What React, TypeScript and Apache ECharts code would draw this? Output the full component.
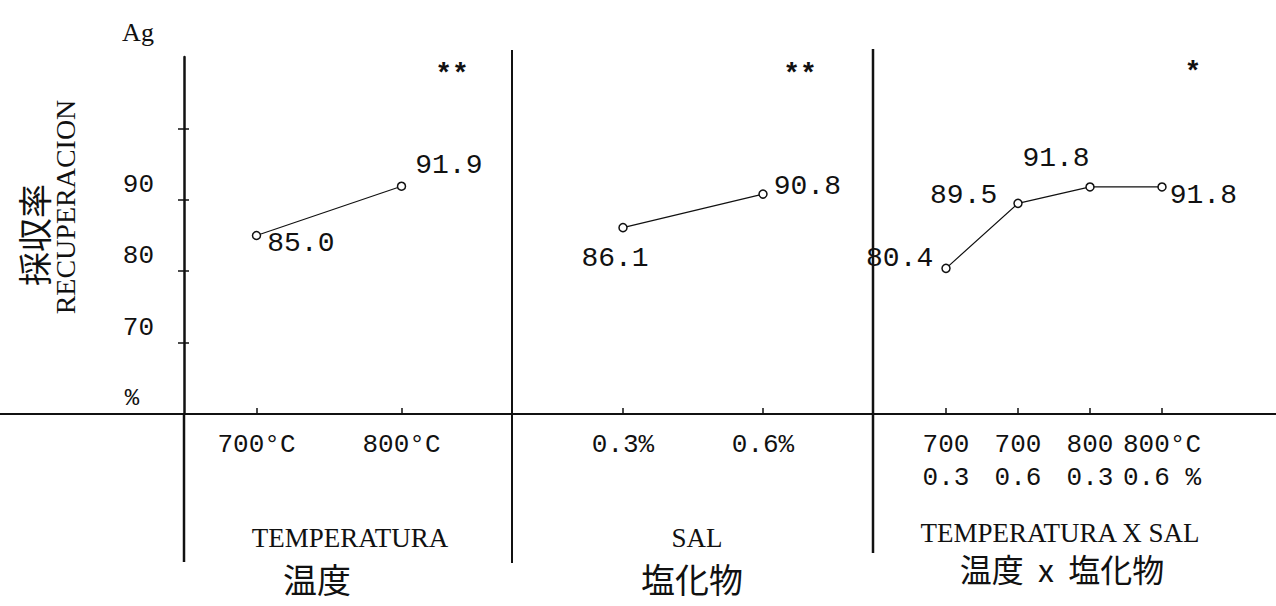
import React, { useEffect, useRef } from "react";
import * as echarts from "echarts";

// ---- data ----
const tempCats = ["700°C", "800°C"];
const tempVals = [85.0, 91.9];
const salCats = ["0.3%", "0.6%"];
const salVals = [86.1, 90.8];
const interCats = ["700\n0.3", "700\n0.6", "800\n0.3", "800°C\n0.6 %"];
const interVals = [80.4, 89.5, 91.8, 91.8];
const yTickValues = [70, 80, 90, 100];
const yLabelValues = [70, 80, 90];
const signif = ["**", "**", "*"];
const panelTitles = ["TEMPERATURA", "SAL", "TEMPERATURA X SAL"];
const panelTitlesJa = ["温度", "塩化物", "温度  x  塩化物"];

// ---- layout / style ----
const Y_MIN = 60;
const Y_MAX = 110;
const TOP = 57;
const BASE = 414;
const W = 1276;
const H = 606;
const INK = "#111";
const MONO = "'Liberation Mono', 'DejaVu Sans Mono', monospace";
const SERIF = "'Liberation Serif', 'DejaVu Serif', serif";
const CJK = "'Noto Sans CJK JP', 'Noto Sans CJK SC', sans-serif";

const grids = [
  { left: 184, width: 290 },
  { left: 553, width: 280 },
  { left: 910, width: 288 },
];

const tempLabelStyle = [
  { position: "right", distance: 6, offset: [0, 8] },
  { position: "right", distance: 9, offset: [0, -21] },
];
const salLabelStyle = [
  { position: "bottom", distance: 12, offset: [-8, 0] },
  { position: "right", distance: 6, offset: [0, -8] },
];
const interLabelStyle = [
  { position: "left", distance: 8, offset: [0, -10] },
  { position: "left", distance: 16, offset: [0, -8] },
  { position: "top", distance: 10, offset: [-34, 0] },
  { position: "right", distance: 3, offset: [0, 9] },
];

function buildSeries(vals: number[], styles: any[], idx: number, yIdx: number) {
  return {
    type: "line",
    xAxisIndex: idx,
    yAxisIndex: yIdx,
    data: vals.map((v, i) => ({ value: v, label: styles[i] })),
    symbol: "circle",
    symbolSize: 8,
    itemStyle: { color: "#fff", borderColor: INK, borderWidth: 1.5 },
    lineStyle: { color: INK, width: 1.2 },
    label: {
      show: true,
      formatter: (p: any) => Number(p.value).toFixed(1),
      fontFamily: MONO,
      fontSize: 28,
      color: INK,
    },
    z: 5,
  };
}

function textEl(text: string, x: number, y: number, font: string, extra: any = {}) {
  return {
    type: "text",
    x,
    y,
    silent: true,
    ...extra,
    style: {
      text,
      font,
      fill: INK,
      textAlign: "center",
      textVerticalAlign: "middle",
    },
  };
}

function vline(x: number, y1: number, y2: number, w: number) {
  return {
    type: "line",
    silent: true,
    shape: { x1: x, y1, x2: x, y2 },
    style: { stroke: INK, lineWidth: w },
  };
}

const catsList = [tempCats, salCats, interCats];

const option: any = {
  animation: false,
  backgroundColor: "#fff",
  grid: grids.map((g) => ({ left: g.left, width: g.width, top: TOP, bottom: H - BASE })),
  xAxis: catsList.map((cats, i) => ({
    type: "category",
    gridIndex: i,
    data: cats,
    boundaryGap: true,
    axisLine: { show: false },
    axisTick: {
      show: true,
      alignWithLabel: true,
      inside: true,
      length: 6,
      lineStyle: { color: INK, width: 1.5 },
    },
    axisLabel: {
      fontFamily: MONO,
      fontSize: 26,
      color: INK,
      margin: 14,
      lineHeight: 33,
      interval: 0,
    },
    splitLine: { show: false },
  })),
  yAxis: [
    {
      type: "value",
      gridIndex: 0,
      position: "left",
      min: Y_MIN,
      max: Y_MAX,
      interval: 10,
      axisLine: { show: true, lineStyle: { color: INK, width: 2.5 } },
      axisTick: {
        show: true,
        length: 6,
        customValues: yTickValues,
        lineStyle: { color: INK, width: 1.5 },
      },
      axisLabel: {
        customValues: yLabelValues,
        fontFamily: MONO,
        fontSize: 26,
        color: INK,
        margin: 30,
        verticalAlign: "bottom",
        padding: [0, 0, 2, 0],
      },
      splitLine: { show: false },
    },
    {
      type: "value",
      gridIndex: 0,
      position: "left",
      offset: 0,
      min: Y_MIN,
      max: Y_MAX,
      interval: 10,
      axisLine: { show: false },
      axisTick: {
        show: true,
        inside: true,
        length: 5,
        customValues: yTickValues,
        lineStyle: { color: INK, width: 1.5 },
      },
      axisLabel: { show: false },
      splitLine: { show: false },
    },
    { type: "value", gridIndex: 1, min: Y_MIN, max: Y_MAX, show: false },
    { type: "value", gridIndex: 2, min: Y_MIN, max: Y_MAX, show: false },
  ],
  series: [
    buildSeries(tempVals, tempLabelStyle, 0, 0),
    buildSeries(salVals, salLabelStyle, 1, 2),
    buildSeries(interVals, interLabelStyle, 2, 3),
  ],
  graphic: [
    { type: "line", silent: true, shape: { x1: 0, y1: BASE, x2: W, y2: BASE }, style: { stroke: INK, lineWidth: 2 } },
    vline(184, BASE, 562, 2.5),
    vline(512, 50, 563, 2),
    vline(873, 49, 553, 2.5),
    textEl("Ag", 138, 32, `26px ${SERIF}`),
    textEl("%", 132, 398, `24px ${MONO}`),
    textEl("RECUPERACION", 65, 207, `28px ${SERIF}`, { rotation: Math.PI / 2 }),
    textEl("採収率", 33, 235, `34px ${CJK}`, { rotation: Math.PI / 2 }),
    textEl(signif[0], 452, 74, `bold 28px ${MONO}`),
    textEl(signif[1], 800, 74, `bold 28px ${MONO}`),
    textEl(signif[2], 1193, 72, `bold 28px ${MONO}`),
    textEl(panelTitles[0], 350, 538, `27px ${SERIF}`),
    textEl(panelTitles[1], 697, 538, `27px ${SERIF}`),
    textEl(panelTitles[2], 1060, 533, `27px ${SERIF}`),
    textEl(panelTitlesJa[0], 317, 578, `34px ${CJK}`),
    textEl(panelTitlesJa[1], 692, 578, `34px ${CJK}`),
    textEl(panelTitlesJa[2], 1062, 568, `32px ${CJK}`),
  ],
};

export default function App() {
  const ref = useRef<HTMLDivElement>(null);
  useEffect(() => {
    if (!ref.current) return;
    const chart = echarts.init(ref.current, null, { renderer: "svg" });
    chart.setOption(option);
    return () => chart.dispose();
  }, []);
  return (
    <div
      ref={ref}
      style={{ position: "fixed", left: 0, top: 0, width: W, height: H, background: "#fff" }}
    />
  );
}
